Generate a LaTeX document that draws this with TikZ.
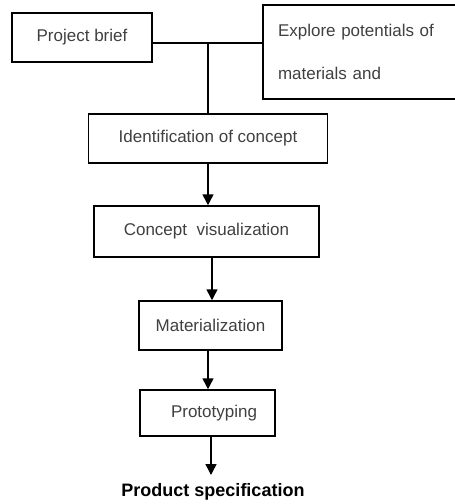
\documentclass[tikz,border=0pt]{standalone}
\usepackage{fontspec}
\setmainfont{Liberation Sans}
\usetikzlibrary{arrows.meta}

\tikzset{
  stage/.style={draw, line width=1.5pt, text=black!75, inner sep=0pt,
    font=\fontsize{17}{20}\selectfont},
  link/.style={line width=1.5pt},
  flow/.style={link, -{Triangle[width=11pt,length=11pt]}},
}

\begin{document}
\begin{tikzpicture}[x=1pt, y=-1pt]
    \clip (0,0) rectangle (455,504);
    \node[stage, minimum width=140pt, minimum height=49pt] (brief) at (82,37.5) {Project brief};
    \node[stage, text width=182pt, align=left, inner xsep=15pt, minimum height=94pt,
      font=\fontsize{17}{43}\selectfont] (explore) at (369,52) {Explore potentials of\\materials and};
    \node[stage, minimum width=239pt, minimum height=49pt] (ident) at (208,138.5) {Identification of concept};
    \node[stage, minimum width=225pt, minimum height=51pt] (concept) at (206.5,231.5) {Concept~ visualization};
    \node[stage, minimum width=143pt, minimum height=49pt] (mat) at (210.5,325.5) {Materialization};
    \node[stage, minimum width=135pt, minimum height=46pt] (proto) at (207.5,413) {\hspace{13pt}Prototyping};
    \node[anchor=north, inner sep=8pt, font=\fontsize{18}{20}\selectfont\bfseries] (spec) at (213,475) {Product specification};
    % brief and materials join, then lead down
    \coordinate (hub) at (ident.north |- 0,43);
    \draw[link] (brief.east |- hub) -- (explore.west |- hub);
    \draw[link] (hub) -- (ident.north);
    \draw[flow] (ident.south) -- (ident.south |- concept.north);
    \draw[flow] ([xshift=5.5pt]concept.south) -- ([xshift=5.5pt]concept.south |- mat.north);
    \draw[flow] ([xshift=-2.5pt]mat.south) -- ([xshift=-2.5pt]mat.south |- proto.north);
    \draw[flow] ([xshift=3.5pt]proto.south) -- ([xshift=3.5pt]proto.south |- spec.north);
\end{tikzpicture}
\end{document}
